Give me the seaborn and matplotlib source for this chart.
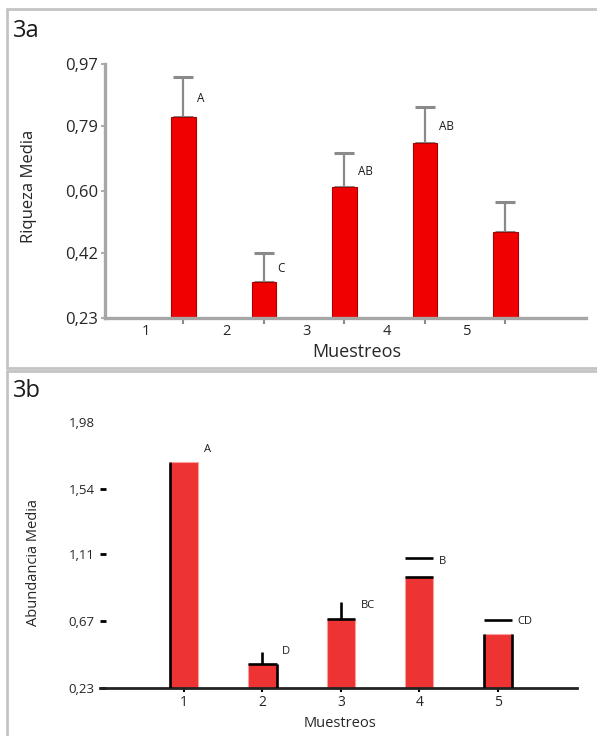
import matplotlib
matplotlib.use("Agg")
import matplotlib.pyplot as plt
import pandas as pd
import seaborn as sns
from matplotlib.lines import Line2D


MUESTREOS = ["1", "2", "3", "4", "5"]

RIQUEZA = [0.816, 0.335, 0.612, 0.740, 0.481]
RIQUEZA_ERR = [0.116, 0.085, 0.099, 0.105, 0.087]
RIQUEZA_LETRAS = ["A", "C", "AB", "AB", ""]
RIQUEZA_TICKS = [0.23, 0.42, 0.60, 0.79, 0.97]

ABUNDANCIA = [1.717, 0.388, 0.684, 0.960, 0.585]
ABUNDANCIA_ERR = [0.0, 0.079, 0.112, 0.125, 0.092]
ABUNDANCIA_LETRAS = ["A", "D", "BC", "B", "CD"]
ABUNDANCIA_TICKS = [0.23, 0.67, 1.11, 1.54, 1.98]
# how the error of each bar is drawn in 3b, and which bar sides get a black edge
ABUNDANCIA_ERR_ESTILO = ["", "stem", "stem", "cap", "cap"]
ABUNDANCIA_BORDES = ["l", "rt", "t", "t", "lr"]

FONT = ["Open Sans", "DejaVu Sans"]


def coma(v):
    return f"{v:.2f}".replace(".", ",")


def configure_style():
    sns.set_theme(style="white")
    plt.rcParams["font.family"] = FONT
    plt.rcParams["text.color"] = "#1a1a1a"


def plot_riqueza(fig):
    ax = fig.add_axes([105 / 597, 1 - 318 / 736, 481 / 597, 254 / 736])
    df = pd.DataFrame({"Muestreo": MUESTREOS, "Riqueza": RIQUEZA})
    sns.barplot(data=df, x="Muestreo", y="Riqueza", color="#f00000", saturation=1,
                width=0.3, edgecolor="#a80000", linewidth=0.8, ax=ax, zorder=2)
    xs = list(range(len(MUESTREOS)))
    ax.errorbar(xs, RIQUEZA, yerr=[[0] * len(xs), RIQUEZA_ERR], fmt="none",
                ecolor="#8a8a8a", elinewidth=1.6, capsize=7, capthick=2.2, zorder=1)
    for x, v, e, letra in zip(xs, RIQUEZA, RIQUEZA_ERR, RIQUEZA_LETRAS):
        ax.text(x + 0.17, v + e * 0.45, letra, fontsize=8.5, ha="left", va="center")

    ax.set_xlim(-0.975, 5.0)
    ax.set_ylim(RIQUEZA_TICKS[0], RIQUEZA_TICKS[-1])
    ax.set_yticks(RIQUEZA_TICKS)
    ax.set_yticklabels([coma(t) for t in RIQUEZA_TICKS], fontsize=12)
    ax.set_xticks(xs)
    ax.set_xticklabels([])
    ax.set_xticks([x - 0.47 for x in xs], minor=True)
    ax.set_xticklabels(MUESTREOS, minor=True, fontsize=10.5)
    ax.tick_params(axis="x", which="major", direction="out", length=4, width=1.5,
                   color="#8a8a8a", bottom=True)
    ax.tick_params(axis="x", which="minor", length=0, pad=4, bottom=True)
    ax.tick_params(axis="y", direction="out", length=3, width=1.5, color="#b0b0b0",
                   left=True, pad=2)
    for side in ["top", "right"]:
        ax.spines[side].set_visible(False)
    for side in ["left", "bottom"]:
        ax.spines[side].set_color("#a6a6a6")
        ax.spines[side].set_linewidth(2.4)
    ax.set_xlabel("Muestreos", fontsize=13, va="center")
    ax.xaxis.set_label_coords(0.524, -0.134)
    ax.set_ylabel("Riqueza Media", fontsize=12, va="center")
    ax.yaxis.set_label_coords(-0.158, 0.52)
    ax.patch.set_alpha(0)


def plot_abundancia(fig):
    ax = fig.add_axes([100 / 597, 1 - 688 / 736, 477 / 597, 266 / 736])
    df = pd.DataFrame({"Muestreo": MUESTREOS, "Abundancia": ABUNDANCIA})
    sns.barplot(data=df, x="Muestreo", y="Abundancia", color="#ee3333", saturation=1,
                width=0.36, edgecolor="#f6a0a0", linewidth=0.8, ax=ax, zorder=2)
    xs = list(range(len(MUESTREOS)))

    for bar, bordes, estilo, v, e in zip(ax.patches, ABUNDANCIA_BORDES,
                                         ABUNDANCIA_ERR_ESTILO, ABUNDANCIA, ABUNDANCIA_ERR):
        x0 = bar.get_x()
        x1 = x0 + bar.get_width()
        y0 = bar.get_y()
        y1 = y0 + bar.get_height()
        xc = (x0 + x1) / 2
        kw = dict(color="black", lw=1.9, zorder=3, solid_capstyle="butt")
        if "l" in bordes:
            ax.add_line(Line2D([x0, x0], [y0, y1], **kw))
        if "r" in bordes:
            ax.add_line(Line2D([x1, x1], [y0, y1], **kw))
        if "t" in bordes:
            ax.add_line(Line2D([x0, x1], [y1, y1], **kw))
        if estilo == "stem":
            ax.add_line(Line2D([xc, xc], [y1, y1 + e], **kw))
        elif estilo == "cap":
            ax.add_line(Line2D([x0, x1], [y1 + e, y1 + e], **kw))

    for x, v, e, letra in zip(xs, ABUNDANCIA, ABUNDANCIA_ERR, ABUNDANCIA_LETRAS):
        ax.text(x + 0.25, v + max(e, 0.1) * 0.8, letra, fontsize=8, ha="left", va="center")

    ax.set_xlim(-1.07, 5.01)
    ax.set_ylim(ABUNDANCIA_TICKS[0], ABUNDANCIA_TICKS[-1])
    ax.set_yticks(ABUNDANCIA_TICKS)
    ax.set_yticklabels([coma(t) for t in ABUNDANCIA_TICKS], fontsize=9.5)
    ax.set_xticks(xs)
    ax.set_xticklabels(MUESTREOS, fontsize=10)
    ax.tick_params(axis="x", direction="inout", length=6, width=1.5, color="black",
                   bottom=True, pad=2)
    ax.tick_params(axis="y", direction="in", length=4, width=2, color="black",
                   left=True, pad=4)
    for side in ["top", "right", "left"]:
        ax.spines[side].set_visible(False)
    ax.spines["bottom"].set_color("#222222")
    ax.spines["bottom"].set_linewidth(2)
    ax.set_xlabel("Muestreos", fontsize=10.5, va="center")
    ax.xaxis.set_label_coords(0.503, -0.132)
    ax.set_ylabel("Abundancia Media", fontsize=10.5, va="center")
    ax.yaxis.set_label_coords(-0.140, 0.47)
    ax.patch.set_alpha(0)
    # the top value 1,98 has no tick mark
    ax.yaxis.get_major_ticks()[-1].tick1line.set_visible(False)


def draw_frames(fig):
    kw = dict(color="#c4c4c4", lw=2, transform=fig.transFigure, zorder=0)
    W, H = 597, 736
    # top panel frame
    fig.add_artist(Line2D([7 / W, 7 / W], [1 - 9 / H, 1 - 368 / H], **kw))
    fig.add_artist(Line2D([7 / W, 1], [1 - 9 / H, 1 - 9 / H], **kw))
    fig.add_artist(Line2D([7 / W, 1], [1 - 368 / H, 1 - 368 / H], **kw))
    # bottom panel frame
    fig.add_artist(Line2D([7 / W, 7 / W], [1 - 371 / H, 0], **kw))
    fig.add_artist(Line2D([7 / W, 1], [1 - 371 / H, 1 - 371 / H], **kw))
    fig.text(13 / W, 1 - 31 / H, "3a", fontsize=17, ha="left", va="center")
    fig.text(13 / W, 1 - 391 / H, "3b", fontsize=17, ha="left", va="center")


def main():
    configure_style()
    fig = plt.figure(figsize=(5.97, 7.36), dpi=100)
    draw_frames(fig)
    plot_riqueza(fig)
    plot_abundancia(fig)
    fig.savefig("out.png", dpi=100, facecolor="white")


if __name__ == "__main__":
    main()
